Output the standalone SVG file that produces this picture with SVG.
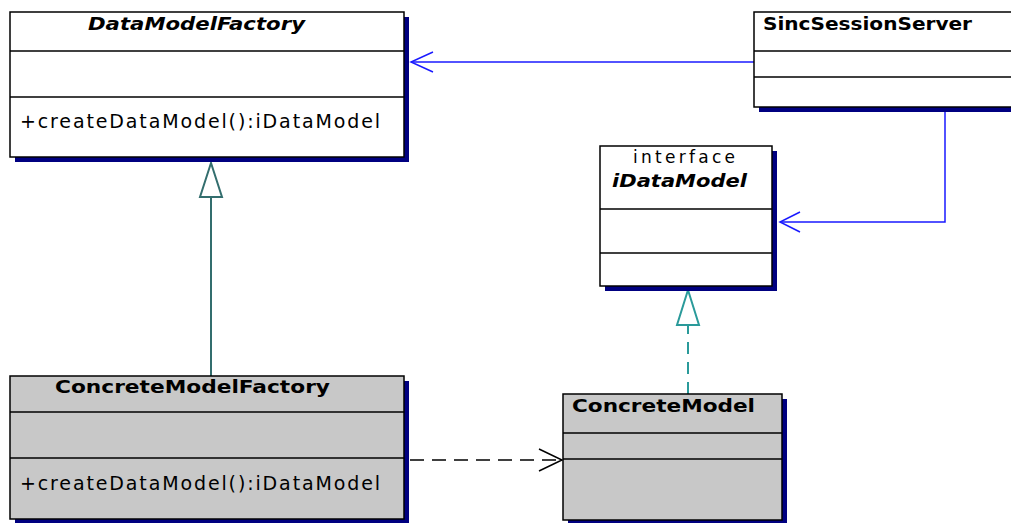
<svg xmlns="http://www.w3.org/2000/svg" width="1011" height="523" viewBox="0 0 1011 523">
<defs>
<style>
.shadow{fill:#000080;}
.box{fill:#ffffff;stroke:#000000;stroke-width:1.5;}
.gbox{fill:#c8c8c8;stroke:#000000;stroke-width:1.5;}
.sep{stroke:#000000;stroke-width:1.5;fill:none;}
.t{font-family:"DejaVu Sans","Liberation Sans",sans-serif;fill:#000000;}
.title{font-size:18px;font-weight:bold;}
.ititle{font-size:18px;font-weight:bold;font-style:italic;}
.op{font-size:19px;}
.ster{font-size:17px;}
.assoc{stroke:#1a1aff;stroke-width:1.5;fill:none;}
.gen{stroke:#336e6e;stroke-width:2;fill:none;}
.real{stroke:#2a9a9a;stroke-width:2;fill:none;stroke-dasharray:12 8;}
.dep{stroke:#000000;stroke-width:1.5;fill:none;stroke-dasharray:14 8;}
</style>
</defs>
<rect width="1011" height="523" fill="#ffffff"/>

<g id="connectors">
  <!-- association SincSessionServer -> DataModelFactory -->
  <line class="assoc" x1="754" y1="62" x2="411" y2="62"/>
  <polyline class="assoc" points="433,52 411,62 433,72"/>
  <!-- association SincSessionServer -> iDataModel -->
  <polyline class="assoc" points="945,107 945,222 780,222"/>
  <polyline class="assoc" points="800,212 780,222 800,232"/>
  <!-- generalization ConcreteModelFactory -> DataModelFactory -->
  <line class="gen" x1="211" y1="376" x2="211" y2="197"/>
  <polygon points="211,163 200,197 222,197" fill="#ffffff" stroke="#336e6e" stroke-width="2"/>
  <!-- realization ConcreteModel -> iDataModel -->
  <line class="real" x1="688" y1="394" x2="688" y2="325"/>
  <polygon points="688,290 677,325 699,325" fill="#ffffff" stroke="#2a9a9a" stroke-width="2"/>
  <!-- dependency ConcreteModelFactory -> ConcreteModel -->
  <line class="dep" x1="410" y1="460" x2="561" y2="460"/>
  <polyline points="539,449 562,460 539,471" fill="none" stroke="#000000" stroke-width="1.5"/>
</g>

<g id="DataModelFactory">
  <rect class="shadow" x="15" y="17" width="394" height="145"/>
  <rect class="box" x="10" y="12" width="394" height="145"/>
  <line class="sep" x1="10" y1="51" x2="404" y2="51"/>
  <line class="sep" x1="10" y1="97" x2="404" y2="97"/>
  <text class="t ititle" x="88" y="30" textLength="217" lengthAdjust="spacingAndGlyphs">DataModelFactory</text>
  <text class="t op" x="20" y="128" textLength="360" lengthAdjust="spacing">+createDataModel():iDataModel</text>
</g>

<g id="SincSessionServer">
  <rect class="shadow" x="759" y="17" width="260" height="95"/>
  <rect class="box" x="754" y="12" width="265" height="95"/>
  <line class="sep" x1="754" y1="51" x2="1019" y2="51"/>
  <line class="sep" x1="754" y1="77" x2="1019" y2="77"/>
  <text class="t title" x="763" y="30" textLength="209" lengthAdjust="spacingAndGlyphs">SincSessionServer</text>
</g>

<g id="iDataModel">
  <rect class="shadow" x="605" y="151" width="172" height="140"/>
  <rect class="box" x="600" y="146" width="172" height="140"/>
  <line class="sep" x1="600" y1="209" x2="772" y2="209"/>
  <line class="sep" x1="600" y1="253" x2="772" y2="253"/>
  <text class="t ster" x="633" y="163" textLength="102" lengthAdjust="spacing">interface</text>
  <text class="t ititle" x="612" y="187" textLength="135" lengthAdjust="spacingAndGlyphs">iDataModel</text>
</g>

<g id="ConcreteModelFactory">
  <rect class="shadow" x="15" y="381" width="394" height="143"/>
  <rect class="gbox" x="10" y="376" width="394" height="143"/>
  <line class="sep" x1="10" y1="412" x2="404" y2="412"/>
  <line class="sep" x1="10" y1="458" x2="404" y2="458"/>
  <text class="t title" x="55" y="393" textLength="275" lengthAdjust="spacingAndGlyphs">ConcreteModelFactory</text>
  <text class="t op" x="20" y="490" textLength="360" lengthAdjust="spacing">+createDataModel():iDataModel</text>
</g>

<g id="ConcreteModel">
  <rect class="shadow" x="568" y="399" width="219" height="126"/>
  <rect class="gbox" x="563" y="394" width="219" height="126"/>
  <line class="sep" x1="563" y1="433" x2="782" y2="433"/>
  <line class="sep" x1="563" y1="459" x2="782" y2="459"/>
  <text class="t title" x="572" y="412" textLength="183" lengthAdjust="spacingAndGlyphs">ConcreteModel</text>
</g>
</svg>
